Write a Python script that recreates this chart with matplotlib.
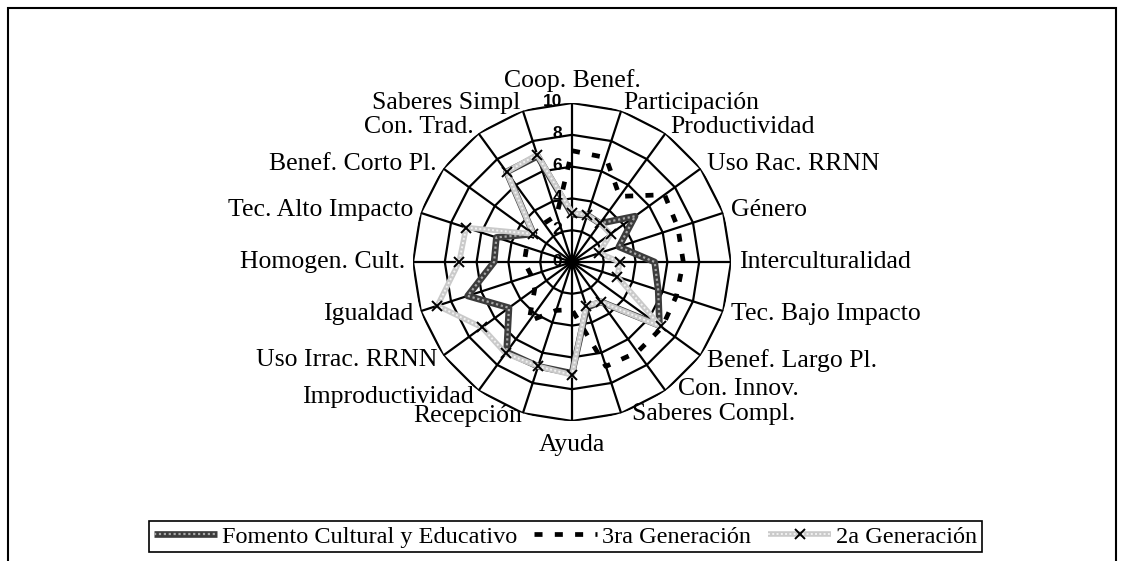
import numpy as np
import matplotlib
matplotlib.use("Agg")
import matplotlib.pyplot as plt
from matplotlib.patches import Rectangle
from matplotlib.transforms import offset_copy

categories = ["Coop. Benef.", "Participación", "Productividad", "Uso Rac. RRNN", "Género",
              "Interculturalidad", "Tec. Bajo Impacto", "Benef. Largo Pl.", "Con. Innov.",
              "Saberes Compl.", "Ayuda", "Recepción", "Improductividad", "Uso Irrac. RRNN",
              "Igualdad", "Homogen. Cult.", "Tec. Alto Impacto", "Benef. Corto Pl.",
              "Con. Trad.", "Saberes Simpl"]

fomento = [3.0, 3.1, 3.0, 4.9, 3.1, 5.2, 5.7, 6.8, 3.1, 3.0,
           7.0, 6.9, 7.0, 4.9, 6.9, 4.9, 5.0, 3.0, 7.0, 7.0]
tercera = [7.0, 6.9, 5.1, 7.2, 7.0, 7.0, 6.9, 7.0, 7.0, 6.9,
           3.0, 3.2, 4.6, 2.9, 2.7, 3.0, 3.0, 3.0, 3.0, 3.1]
segunda = [3.1, 3.1, 3.0, 3.0, 1.8, 3.0, 3.0, 6.9, 3.1, 2.9,
           7.1, 6.9, 7.1, 7.0, 8.9, 7.1, 7.0, 3.0, 7.0, 7.1]
rticks = [0, 2, 4, 6, 8, 10]
series_names = ["Fomento Cultural y Educativo", "3ra Generación", "2a Generación"]

W, H = 1124, 561
fig = plt.figure(figsize=(W / 100, H / 100), dpi=100)
fig.patch.set_facecolor("white")

cx, cy, R = 572, 262, 159
ax = fig.add_axes([(cx - R) / W, 1 - (cy + R) / H, 2 * R / W, 2 * R / H], projection="polar")
ax.set_theta_zero_location("N")
ax.set_theta_direction(-1)
ax.set_ylim(0, 10)
ax.grid(False)
ax.spines["polar"].set_visible(False)
ax.set_xticks([])
ax.set_yticks([])
ax.patch.set_alpha(0)

n = len(categories)
theta = np.deg2rad(np.arange(n) * 360.0 / n)
theta_c = np.append(theta, theta[0])

# polygon grid
for r in rticks[1:]:
    ax.plot(theta_c, [r] * (n + 1), color="black", lw=1.6, zorder=1)
for t in theta:
    ax.plot([t, t], [0, 10], color="black", lw=1.6, zorder=1)

def closed(v):
    return list(v) + [v[0]]

# Fomento: dark checkered thick line
f1, = ax.plot(theta_c, closed(fomento), color="#3c3c3c", lw=4.8, zorder=3, solid_capstyle="butt")
f2, = ax.plot(theta_c, closed(fomento), color="#a8a8a8", lw=1.6, ls=(0, (1, 1.2)), zorder=3.1)
# 3ra Generación: black dashed
t1, = ax.plot(theta_c, closed(tercera), color="black", lw=3.4, ls=(0, (1.7, 2.6)), zorder=4)
# 2a Generación: light grey dotted with x markers
s1, = ax.plot(theta_c, closed(segunda), color="#cacaca", lw=4, zorder=5, solid_capstyle="butt")
s2, = ax.plot(theta_c, closed(segunda), color="#f2f2f2", lw=1.4, ls=(0, (1, 1.2)), zorder=5.1)
s3, = ax.plot(theta, segunda, ls="none", marker="x", ms=7, mew=1.4, color="black", zorder=6)

# radial tick labels
tr = offset_copy(ax.transData, fig=fig, x=-10, y=1, units="dots")
for r in rticks:
    ax.text(0, r, str(r), transform=tr, ha="right", va="center",
            fontsize=12.5, fontweight="bold", family="Liberation Sans", zorder=7)

# category labels (small pixel nudges for the crowded spots)
nudges = {"Con. Innov.": (8, 8), "Saberes Compl.": (10, 2), "Coop. Benef.": (0, 3)}
for t, lab in zip(theta, categories):
    s, c = np.sin(t), np.cos(t)
    if abs(s) < 0.05:
        ha = "center"
        va = "bottom" if c > 0 else "top"
        rr = 10.5 if c > 0 else 10.8
    else:
        ha = "left" if s > 0 else "right"
        va = "center"
        rr = 10.5 if c > -0.93 else 10.2
    dx, dy = nudges.get(lab, (0, 0))
    trl = offset_copy(ax.transData, fig=fig, x=dx, y=dy, units="dots")
    ax.text(t, rr, lab, transform=trl, ha=ha, va=va, fontsize=18.5,
            family="Liberation Serif", clip_on=False)

# legend
leg = fig.legend([(f1, f2), t1, (s1, s2, s3)], series_names, loc="center",
                 bbox_to_anchor=(565.5 / W, 1 - 536.5 / H), ncol=3,
                 prop={"family": "Liberation Serif", "size": 17.5},
                 frameon=True, fancybox=False, edgecolor="black", framealpha=1,
                 handlelength=2.6, handletextpad=0.2, columnspacing=0.7,
                 borderpad=0.2, borderaxespad=0)
leg.get_frame().set_linewidth(1.2)

# outer border
fig.add_artist(Rectangle((8 / W, -0.1), (1116 - 8) / W, 1.1 - 8 / H,
                         transform=fig.transFigure, fill=False, ec="black", lw=1.5))

fig.savefig("out.png", dpi=100, facecolor="white")
